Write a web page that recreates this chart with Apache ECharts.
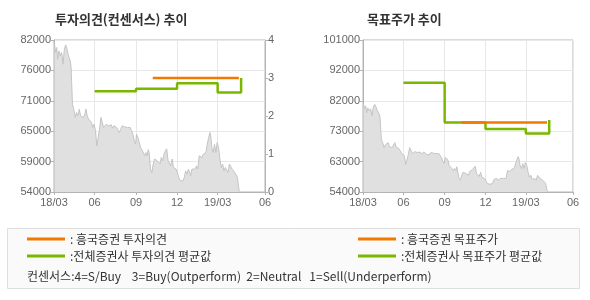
<!DOCTYPE html>
<html><head><meta charset="utf-8">
<script src="https://cdn.jsdelivr.net/npm/echarts@6/dist/echarts.min.js"></script>
<style>html,body{margin:0;padding:0;background:#fff}#c{width:590px;height:300px}</style>
</head><body><div id="c"></div>
<script>
// ---- data ----
const priceDates = ['2018-03-04','2018-03-07','2018-03-09','2018-03-11','2018-03-14','2018-03-17','2018-03-20','2018-03-23','2018-03-26','2018-03-29',
'2018-04-01','2018-04-04','2018-04-08','2018-04-10','2018-04-11','2018-04-13','2018-04-16','2018-04-19','2018-04-22','2018-04-25','2018-04-28',
'2018-05-01','2018-05-04','2018-05-07','2018-05-10','2018-05-13','2018-05-16','2018-05-19','2018-05-22','2018-05-25','2018-05-28','2018-05-31',
'2018-06-03','2018-06-06','2018-06-09','2018-06-12','2018-06-15','2018-06-18','2018-06-21','2018-06-24','2018-06-27','2018-06-29',
'2018-07-02','2018-07-05','2018-07-08','2018-07-11','2018-07-14','2018-07-17','2018-07-20','2018-07-23','2018-07-26','2018-07-29',
'2018-08-01','2018-08-04','2018-08-07','2018-08-10','2018-08-13','2018-08-16','2018-08-19','2018-08-22','2018-08-25','2018-08-28','2018-08-31',
'2018-09-02','2018-09-05','2018-09-08','2018-09-11','2018-09-14','2018-09-17','2018-09-20','2018-09-23','2018-09-26','2018-09-28','2018-09-30',
'2018-10-03','2018-10-06','2018-10-09','2018-10-12','2018-10-15','2018-10-18','2018-10-21','2018-10-24','2018-10-27','2018-10-30',
'2018-11-02','2018-11-05','2018-11-08','2018-11-11','2018-11-14','2018-11-17','2018-11-20','2018-11-23','2018-11-26','2018-11-29',
'2018-12-02','2018-12-05','2018-12-08','2018-12-11','2018-12-14','2018-12-17','2018-12-20','2018-12-23','2018-12-26','2018-12-29','2018-12-31',
'2019-01-03','2019-01-06','2019-01-10','2019-01-13','2019-01-16','2019-01-19','2019-01-22','2019-01-25','2019-01-28','2019-01-31',
'2019-02-03','2019-02-06','2019-02-09','2019-02-12','2019-02-14','2019-02-16','2019-02-19','2019-02-22','2019-02-25','2019-02-28',
'2019-03-03','2019-03-06','2019-03-09','2019-03-12','2019-03-15','2019-03-18','2019-03-21','2019-03-24','2019-03-27','2019-03-30',
'2019-04-02','2019-04-05','2019-04-08','2019-04-11','2019-04-14','2019-04-16','2019-04-18'];
const priceValues = [81230,79700,80620,78470,80000,79080,79700,77540,80300,81110,
80300,79080,78170,76930,74480,70170,69210,67730,68640,68030,69260,
68030,68030,67730,68230,69260,67860,67420,67420,66800,65880,66490,
65270,62500,64000,65560,67730,68030,65880,65560,66490,66800,
66190,65990,66380,65750,66190,66380,65880,65560,64960,65560,
66190,65880,65990,65880,65880,65560,65880,65560,64650,63430,62810,
64650,64040,64040,62200,62500,61280,60660,61280,60660,61800,61280,
58210,57590,59160,60080,60350,59740,60080,59160,60350,59740,
60970,61580,61950,59740,59430,58820,60080,58510,58210,58210,
58510,56670,56060,56360,56060,56670,57900,57290,58210,57590,56980,
58210,57900,58210,58820,58210,60660,60970,60350,60970,60660,
61280,62810,64040,64960,64040,62200,61280,62810,61280,63120,
62200,60080,58510,59160,57900,58510,58210,57590,59160,58820,
58210,58210,57590,57900,56670,55140,54210];

const opinionAvgDates = ['2018-06-01','2018-09-01','2018-12-01','2019-03-01','2019-04-22'];
const opinionAvgValues = [2.65, 2.72, 2.86, 2.62, 3.0];
const opinionHkDates = ['2018-10-08','2019-04-17'];
const opinionHkValues = [3, 3];
const targetAvgDates = ['2018-06-01','2018-09-01','2018-12-01','2019-03-01','2019-04-22'];
const targetAvgValues = [87800, 75500, 73500, 72100, 76300];
const targetHkDates = ['2018-10-08','2019-04-17'];
const targetHkValues = [75500, 75500];

const xTickDates = ['2018-03-03','2018-06-01','2018-09-01','2018-12-01','2019-03-01','2019-06-14'];
const xTickLabels = ['18/03','06','09','12','19/03','06'];
const leftPriceTicks = [54000,59600,65200,70800,76400,82000];
const leftPriceTickLabels = ['54000','59000','65000','71000','76000','82000'];
const opinionTicks = [0,1,2,3,4];
const rightPriceTicks = [54000,63400,72800,82200,91600,101000];
const rightPriceTickLabels = ['54000','63000','73000','82000','92000','101000'];

const titles = ['투자의견(컨센서스) 추이','목표주가 추이'];
const seriesNames = ['흥국증권 투자의견','전체증권사 투자의견 평균값','흥국증권 목표주가','전체증권사 목표주가 평균값'];
const consensusNote = '컨센서스:4=S/Buy    3=Buy(Outperform)  2=Neutral   1=Sell(Underperform)';

// ---- build ----
// dates -> day number (days since 2018-01-01), used on a value axis
function dayNum(s){const p=s.split('-').map(Number);return Math.round((Date.UTC(p[0],p[1]-1,p[2])-Date.UTC(2018,0,1))/86400000);}
function zip(ds,vs){return ds.map((d,i)=>[dayNum(d),vs[i]]);}
const xTicks = xTickDates.map(dayNum);
function nearestLabel(v, ticks, labels){let bi=0,bd=Infinity;ticks.forEach((t,i)=>{const d=Math.abs(t-v);if(d<bd){bd=d;bi=i;}});return labels[bi];}
const priceData = zip(priceDates, priceValues);

const ORANGE='#f27800', GREEN='#7ab800', AXIS='#b4b4b4', GRID='#e8e8e8', LBL='#666';
const numFont = 'Liberation Sans';
const krFont = 'Noto Sans CJK KR';

function xAxisCfg(gi){
  return {type:'value', gridIndex:gi, min:xTicks[0], max:xTicks[xTicks.length-1],
    axisLine:{show:true,lineStyle:{color:AXIS}},
    axisTick:{show:true,customValues:xTicks,length:3,lineStyle:{color:AXIS}},
    axisLabel:{customValues:xTicks,formatter:v=>nearestLabel(v,xTicks,xTickLabels),color:LBL,fontSize:11,fontFamily:numFont,margin:5,showMinLabel:true,showMaxLabel:true},
    splitLine:{show:true,lineStyle:{color:GRID,width:1}}};
}
function priceY(gi, min, max, ticks, labels){
  return {type:'value', gridIndex:gi, min:min, max:max, position:'left',
    axisLine:{show:true,lineStyle:{color:AXIS}},
    axisTick:{show:true,customValues:ticks,length:3,lineStyle:{color:AXIS}},
    axisLabel:{customValues:ticks,formatter:v=>nearestLabel(v,ticks,labels),color:LBL,fontSize:11,fontFamily:numFont,margin:3},
    splitLine:{show:true,lineStyle:{color:GRID,width:1}}};
}
function areaSeries(xi, yi){
  return {type:'line', xAxisIndex:xi, yAxisIndex:yi, data:priceData, symbol:'none', silent:true, z:1,
    lineStyle:{color:'#c4c4c4',width:1}, areaStyle:{color:'#e0e0e0',opacity:1,origin:'start'}};
}
function stepLine(name, xi, yi, data, color, z){
  return {name:name, type:'line', xAxisIndex:xi, yAxisIndex:yi, data:data, step:'end', symbol:'none', z:z,
    color:color, itemStyle:{color:color}, lineStyle:{color:color,width:2.5}};
}
const legendText = {};
legendText[seriesNames[0]] = ': ' + seriesNames[0];
legendText[seriesNames[1]] = ':' + seriesNames[1];
legendText[seriesNames[2]] = ': ' + seriesNames[2];
legendText[seriesNames[3]] = ':' + seriesNames[3];
function legendCfg(left, names){
  return {left:left, top:233, orient:'vertical', icon:'rect', itemWidth:38, itemHeight:3, itemGap:5, padding:0,
    selectedMode:false, data:names, formatter:n=>legendText[n],
    textStyle:{fontSize:12,color:'#333',fontFamily:krFont}};
}

const chart = echarts.init(document.getElementById('c'), null, {renderer:'canvas'});
chart.setOption({
  animation:false,
  backgroundColor:'#fff',
  title:[
    {text:titles[0], left:55, top:13, padding:0, textStyle:{fontSize:13,fontWeight:'bold',color:'#333',fontFamily:krFont}},
    {text:titles[1], left:367, top:13, padding:0, textStyle:{fontSize:13,fontWeight:'bold',color:'#333',fontFamily:krFont}}
  ],
  grid:[
    {left:54, top:40, width:211, height:152, show:true, borderColor:AXIS, borderWidth:1, backgroundColor:'transparent'},
    {left:363, top:40, width:210, height:152, show:true, borderColor:AXIS, borderWidth:1, backgroundColor:'transparent'}
  ],
  xAxis:[xAxisCfg(0), xAxisCfg(1)],
  yAxis:[
    priceY(0, leftPriceTicks[0], leftPriceTicks[leftPriceTicks.length-1], leftPriceTicks, leftPriceTickLabels),
    {type:'value', gridIndex:0, min:opinionTicks[0], max:opinionTicks[opinionTicks.length-1], interval:1, position:'right',
      axisLine:{show:true,lineStyle:{color:AXIS}}, axisTick:{show:true,length:3,lineStyle:{color:AXIS}},
      axisLabel:{color:LBL,fontSize:11,fontFamily:numFont,margin:3}, splitLine:{show:false}},
    priceY(1, rightPriceTicks[0], rightPriceTicks[rightPriceTicks.length-1], rightPriceTicks, rightPriceTickLabels)
  ],
  legend:[legendCfg(27, [seriesNames[0], seriesNames[1]]), legendCfg(358, [seriesNames[2], seriesNames[3]])],
  graphic:[
    {type:'rect', z:-10, shape:{x:7.5, y:228.5, width:572, height:60}, style:{fill:'#fafafa', stroke:'#dedede', lineWidth:1}},
    {type:'text', z:10, left:27, top:270.5, style:{text:consensusNote, fill:'#333', font:'12px "Noto Sans CJK KR"'}}
  ],
  series:[
    areaSeries(0,0),
    stepLine(seriesNames[1], 0, 1, zip(opinionAvgDates, opinionAvgValues), GREEN, 3),
    stepLine(seriesNames[0], 0, 1, zip(opinionHkDates, opinionHkValues), ORANGE, 4),
    areaSeries(1,2),
    stepLine(seriesNames[3], 1, 2, zip(targetAvgDates, targetAvgValues), GREEN, 3),
    stepLine(seriesNames[2], 1, 2, zip(targetHkDates, targetHkValues), ORANGE, 4)
  ]
});
</script></body></html>
